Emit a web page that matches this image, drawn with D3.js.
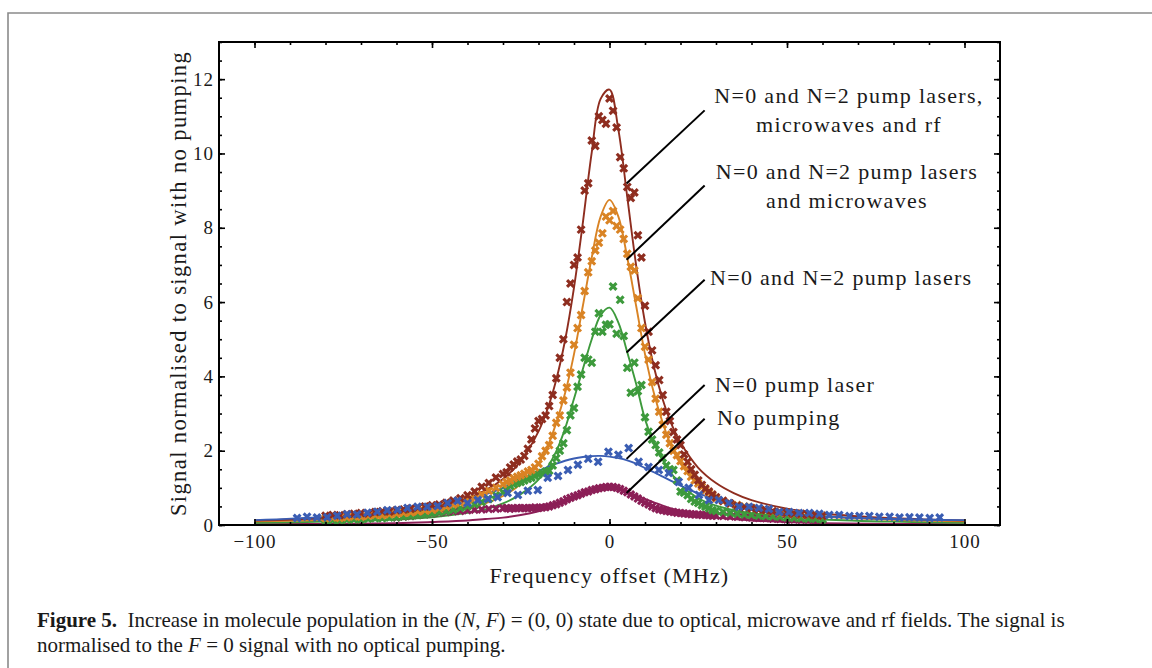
<!DOCTYPE html>
<html>
<head>
<meta charset="utf-8">
<script src="https://cdn.jsdelivr.net/npm/d3@7"></script>
<style>
  html, body { margin: 0; padding: 0; background: #fff; }
  svg text { font-family: "Liberation Serif", "Times New Roman", serif; fill: #1a1a1a; }
</style>
</head>
<body>
<svg id="fig" width="1152" height="668"></svg>
<script>
//--- data --------------------------------------------------------------------------------------------------//

// frequency points of the dense scans (MHz)
var scanMHz = [-80,-78,-76,-74,-72,-70,-68,-66,-64,-62,-60,-58,-56,-54,-52,-50,-48,-46,-44,-42,-40,-38,-36,-34,-32,
    -30,-29,-28,-27,-26,-25,-24,-23,-22,-21,-20,-19,-18,-17,-16,-15,-14,-13,-12,-11,-10,-9,-8,-7,-6,-5,-4,-3,-2,-1,
    0,1,2,3,4,5,6,7,8,9,10,11,12,13,14,15,16,17,18,19,20,21,22,23,24,25,26,27,28,29,30,
    32,34,36,38,40,42,44,46,48,50,52,54,56,58,60];

var allPumpsSig = [0.25,0.27,0.26,0.29,0.30,0.32,0.31,0.35,0.37,0.36,0.40,0.42,0.44,0.47,0.50,0.53,0.55,0.60,0.66,0.72,0.80,0.90,1.03,1.13,1.28,
    1.37,1.42,1.55,1.63,1.71,1.76,1.86,2.05,2.30,2.60,2.80,2.85,2.95,3.20,3.50,3.95,4.50,5.00,6.00,6.50,7.00,7.20,7.95,9.00,9.20,10.35,10.20,11.00,10.90,10.80,
    11.48,11.15,10.70,9.90,9.60,9.10,8.80,8.95,7.80,7.20,5.90,5.20,4.70,4.30,3.90,3.50,3.05,2.80,2.50,2.30,2.15,1.90,1.70,1.50,1.35,1.20,1.08,0.98,0.90,0.82,0.75,
    0.65,0.58,0.52,0.48,0.45,0.42,0.40,0.37,0.35,0.33,0.31,0.30,0.28,0.27,0.25];

var mwPumpsSig = [0.18,0.20,0.19,0.21,0.23,0.22,0.25,0.27,0.26,0.29,0.31,0.33,0.34,0.37,0.40,0.42,0.46,0.50,0.55,0.60,0.66,0.72,0.82,0.92,1.00,
    1.10,1.16,1.20,1.26,1.30,1.34,1.38,1.44,1.48,1.55,1.65,1.85,2.00,2.15,2.40,2.75,2.95,3.35,3.70,4.10,4.85,5.30,5.65,6.30,6.80,7.10,7.39,7.60,7.85,8.30,
    8.20,8.45,8.05,7.95,7.70,7.30,6.95,6.85,6.10,5.30,4.80,4.45,3.85,3.40,3.05,2.70,2.43,2.20,2.00,1.88,1.72,1.58,1.45,1.30,1.20,1.12,1.03,0.94,0.86,0.77,0.72,
    0.64,0.58,0.54,0.50,0.46,0.43,0.40,0.36,0.33,0.32,0.30,0.29,0.28,0.27,0.25];

var twoPumpsSig = [0.12,0.13,0.12,0.14,0.15,0.15,0.17,0.18,0.18,0.20,0.21,0.23,0.25,0.27,0.29,0.31,0.34,0.37,0.41,0.46,0.50,0.56,0.62,0.70,0.80,
    0.88,0.95,1.05,1.10,1.13,1.16,1.20,1.24,1.27,1.32,1.36,1.40,1.44,1.46,1.60,1.80,2.00,2.20,2.55,2.95,3.15,3.72,4.05,4.50,4.45,4.37,5.20,5.70,5.20,5.39,
    5.40,6.42,5.15,6.06,5.09,4.23,3.56,4.37,3.60,3.77,2.90,2.51,2.30,2.15,1.95,1.80,1.60,1.50,1.48,1.20,0.90,0.87,0.80,0.70,0.63,0.59,0.53,0.49,0.45,0.40,0.38,
    0.35,0.33,0.30,0.28,0.27,0.25,0.24,0.23,0.22,0.20,0.19,0.18,0.17,0.16,0.15];

var noPumpSig = [null,null,null,null,null,null,null,null,null,null,0.20,0.23,0.24,0.27,0.29,0.30,0.33,0.35,0.37,0.38,0.40,0.41,0.42,0.43,0.44,
    0.45,0.46,0.44,0.45,0.46,0.45,0.46,0.45,0.46,0.47,0.46,0.47,0.48,0.50,0.53,0.56,0.60,0.64,0.69,0.73,0.77,0.80,0.84,0.88,0.90,0.94,0.96,0.99,1.00,1.02,
    1.03,1.02,1.00,0.97,0.92,0.88,0.82,0.77,0.71,0.65,0.60,0.55,0.50,0.45,0.42,0.40,0.38,0.36,0.35,0.33,0.32,0.31,0.30,0.29,0.28,0.28,0.27,0.27,0.26,0.25,0.25,
    0.24,0.23,0.22,0.21,0.20,0.19,0.18,0.17,0.16,0.15,0.15,0.14,0.14,0.13,0.13];

// the N=0 pump laser scan has its own, coarser frequency steps
var n0ScanMHz = [-88.0,-85.2,-82.4,-79.5,-76.7,-73.9,-71.1,-68.2,-65.4,-62.6,-59.7,-56.9,-54.1,-51.3,-48.4,-45.6,-42.8,-40.0,-37.1,-34.3,
    -31.5,-28.7,-25.8,-23.0,-20.2,-17.4,-14.5,-11.7,-8.9,-6.0,-3.2,-0.3,2.5,5.4,8.2,11.0,13.9,16.7,19.5,22.3,
    25.2,28.0,30.8,33.6,36.5,39.3,42.1,44.9,47.8,50.6,53.4,56.3,59.1,61.9,64.7,67.6,70.4,73.2,76.0,78.9,
    81.7,84.5,87.3,90.2,93.0];
var n0PumpSig = [0.19,0.22,0.20,0.21,0.25,0.29,0.28,0.33,0.36,0.40,0.41,0.46,0.49,0.49,0.51,0.59,0.65,0.59,0.67,0.70,
    0.75,0.86,0.81,0.92,0.94,1.27,1.32,1.48,1.62,1.78,1.70,1.97,1.89,2.07,1.70,1.56,1.48,1.40,1.16,1.00,
    0.81,0.67,0.67,0.59,0.49,0.49,0.46,0.43,0.35,0.35,0.32,0.32,0.30,0.27,0.27,0.24,0.24,0.24,0.22,0.22,
    0.20,0.21,0.20,0.19,0.20];

// fitted curves, read at these frequencies
var fitMHz = [-100,-80,-60,-50,-40,-35,-30,-25,-20,-17.5,-15,-12.5,-10,-7.5,-5,-2.5,0,2.5,5,7.5,10,12.5,15,17.5,20,25,30,35,40,50,60,80,100];
var allPumpsFit = [0.12,0.19,0.33,0.47,0.72,0.93,1.24,1.72,2.52,3.11,3.91,4.98,6.39,8.14,10.03,11.47,11.72,10.64,8.83,6.99,5.45,4.26,3.38,2.71,2.22,1.54,1.13,0.86,0.67,0.44,0.31,0.18,0.12];
var mwPumpsFit = [0.10,0.14,0.23,0.31,0.46,0.58,0.78,1.10,1.65,2.10,2.75,3.55,4.60,5.90,7.20,8.30,8.75,8.30,7.20,5.90,4.60,3.55,2.75,2.10,1.65,1.10,0.78,0.58,0.46,0.31,0.23,0.14,0.10];
var twoPumpsFit = [0.06,0.09,0.15,0.21,0.33,0.42,0.58,0.83,1.22,1.55,1.98,2.60,3.40,4.20,5.00,5.65,5.85,5.45,4.65,3.80,2.85,2.20,1.75,1.38,1.08,0.72,0.52,0.40,0.32,0.21,0.15,0.09,0.06];
var n0PumpFit = [0.13,0.22,0.35,0.47,0.66,0.82,1.00,1.23,1.45,1.56,1.65,1.73,1.79,1.83,1.855,1.86,1.84,1.80,1.74,1.65,1.53,1.42,1.30,1.18,1.06,0.85,0.69,0.57,0.47,0.33,0.24,0.16,0.13];
var noPumpFit = [0.02,0.03,0.05,0.08,0.12,0.16,0.20,0.27,0.37,0.44,0.52,0.61,0.70,0.80,0.90,0.97,1.00,0.97,0.90,0.80,0.70,0.61,0.52,0.44,0.37,0.27,0.20,0.16,0.12,0.08,0.05,0.03,0.02];

var xTicks = [-100, -50, 0, 50, 100];
var yTicks = [0, 2, 4, 6, 8, 10, 12];

// label text and the point on each curve the pointer touches [MHz, signal] -> [MHz, signal]
var labelLines = [
    {text: ["N=0 and N=2 pump lasers,", "microwaves and rf"], from: [4.8, 9.19], to: [26.8, 11.16]},
    {text: ["N=0 and N=2 pump lasers", "and microwaves"],     from: [4.8, 7.14], to: [26.8, 9.14]},
    {text: ["N=0 and N=2 pump lasers"],                      from: [4.8, 4.64], to: [26.8, 6.60]},
    {text: ["N=0 pump laser"],                               from: [4.8, 1.78], to: [26.8, 3.77]},
    {text: ["No pumping"],                                   from: [4.8, 0.86], to: [26.8, 2.86]}
];

//--- drawing ----------------------------------------------------------------------------------------------//

var svg = d3.select("#fig");
var plot = {left: 219, right: 1000, top: 42, bottom: 525};

var x = d3.scaleLinear().domain([-110, 110]).range([plot.left, plot.right]);
var y = d3.scaleLinear().domain([0, 13]).range([plot.bottom, plot.top]);

// outer figure border
svg.append("path")
    .attr("d", "M8,668V13H1152")
    .attr("fill", "none")
    .attr("stroke", "#8a8a8a")
    .attr("stroke-width", 1.6);

svg.append("clipPath").attr("id", "plotclip")
    .append("rect")
    .attr("x", plot.left).attr("y", plot.top)
    .attr("width", plot.right - plot.left).attr("height", plot.bottom - plot.top);

var series = [
    {color: "#8c1f57", mx: scanMHz,   my: noPumpSig,   fit: noPumpFit},
    {color: "#3d9a3c", mx: scanMHz,   my: twoPumpsSig, fit: twoPumpsFit},
    {color: "#d98324", mx: scanMHz,   my: mwPumpsSig,  fit: mwPumpsFit},
    {color: "#8e2d1f", mx: scanMHz,   my: allPumpsSig, fit: allPumpsFit},
    {color: "#3a5db3", mx: n0ScanMHz, my: n0PumpSig,   fit: n0PumpFit}
];

var g = svg.append("g").attr("clip-path", "url(#plotclip)");

var line = d3.line()
    .x(function(d) { return x(d[0]); })
    .y(function(d) { return y(d[1]); })
    .curve(d3.curveCatmullRom.alpha(0.5));

series.forEach(function(s) {
    g.append("path")
        .datum(d3.zip(fitMHz, s.fit))
        .attr("d", line)
        .attr("fill", "none")
        .attr("stroke", s.color)
        .attr("stroke-width", 1.9);
});

var cross = "M-3.4,-3.4L3.4,3.4M-3.4,3.4L3.4,-3.4";

series.forEach(function(s) {
    var pts = d3.zip(s.mx, s.my).filter(function(d) { return d[1] !== null; });
    g.selectAll(null)
        .data(pts)
        .enter()
        .append("path")
        .attr("d", cross)
        .attr("transform", function(d) { return "translate(" + x(d[0]) + "," + y(d[1]) + ")"; })
        .attr("fill", "none")
        .attr("stroke", s.color)
        .attr("stroke-width", 3.1);
});

//--- axes: ticks point inwards on all four sides -----------------------------------------------------------//

function styleAxis(sel) {
    sel.select(".domain").remove();
    sel.selectAll(".tick line").attr("stroke", "#000").attr("stroke-width", 1.6);
    sel.selectAll(".tick text")
        .style("font-family", "'Liberation Serif', serif")
        .style("font-size", "19px")
        .style("letter-spacing", "1px")
        .attr("fill", "#1a1a1a");
}

var minorX = d3.range(-100, 101, 10);
var minorY = d3.range(0, 13.01, 0.5);

svg.append("g").attr("transform", "translate(0," + plot.bottom + ")")
    .call(d3.axisBottom(x).tickValues(minorX).tickSize(-3).tickFormat(""))
    .call(styleAxis);
svg.append("g").attr("transform", "translate(0," + plot.bottom + ")")
    .call(d3.axisBottom(x).tickValues(xTicks).tickSize(-6).tickPadding(10))
    .call(styleAxis);
svg.append("g").attr("transform", "translate(0," + plot.top + ")")
    .call(d3.axisTop(x).tickValues(minorX).tickSize(-3).tickFormat(""))
    .call(styleAxis);
svg.append("g").attr("transform", "translate(0," + plot.top + ")")
    .call(d3.axisTop(x).tickValues(xTicks).tickSize(-6).tickFormat(""))
    .call(styleAxis);

svg.append("g").attr("transform", "translate(" + plot.left + ",0)")
    .call(d3.axisLeft(y).tickValues(minorY).tickSize(-3).tickFormat(""))
    .call(styleAxis);
svg.append("g").attr("transform", "translate(" + plot.left + ",0)")
    .call(d3.axisLeft(y).tickValues(yTicks).tickSize(-6).tickPadding(5))
    .call(styleAxis);
svg.append("g").attr("transform", "translate(" + plot.right + ",0)")
    .call(d3.axisRight(y).tickValues(minorY).tickSize(-3).tickFormat(""))
    .call(styleAxis);
svg.append("g").attr("transform", "translate(" + plot.right + ",0)")
    .call(d3.axisRight(y).tickValues(yTicks).tickSize(-6).tickFormat(""))
    .call(styleAxis);

svg.append("rect")
    .attr("x", plot.left).attr("y", plot.top)
    .attr("width", plot.right - plot.left).attr("height", plot.bottom - plot.top)
    .attr("fill", "none")
    .attr("stroke", "#000")
    .attr("stroke-width", 2);

// axis titles
svg.append("text")
    .attr("x", (plot.left + plot.right) / 2)
    .attr("y", 583)
    .attr("text-anchor", "middle")
    .style("font-size", "22px")
    .style("letter-spacing", "1.2px")
    .text("Frequency offset (MHz)");

svg.append("text")
    .attr("transform", "translate(186," + ((plot.top + plot.bottom) / 2) + ") rotate(-90)")
    .attr("text-anchor", "middle")
    .style("font-size", "22.5px")
    .style("letter-spacing", "1.4px")
    .text("Signal normalised to signal with no pumping");

//--- curve labels with pointer lines ----------------------------------------------------------------------//

svg.selectAll(".pointer")
    .data(labelLines)
    .enter()
    .append("line")
    .attr("class", "pointer")
    .attr("x1", function(d) { return x(d.from[0]); })
    .attr("y1", function(d) { return y(d.from[1]); })
    .attr("x2", function(d) { return x(d.to[0]); })
    .attr("y2", function(d) { return y(d.to[1]); })
    .attr("stroke", "#000")
    .attr("stroke-width", 2);

var labelPos = [
    {x: 849, y: 103, anchor: "middle"},
    {x: 847, y: 179, anchor: "middle"},
    {x: 710, y: 285, anchor: "start"},
    {x: 715, y: 392, anchor: "start"},
    {x: 717, y: 425, anchor: "start"}
];

labelLines.forEach(function(d, i) {
    var p = labelPos[i];
    var t = svg.append("text")
        .attr("x", p.x).attr("y", p.y)
        .attr("text-anchor", p.anchor)
        .style("font-size", "22px")
        .style("letter-spacing", "1.3px");
    d.text.forEach(function(s, j) {
        t.append("tspan").attr("x", p.x).attr("dy", j === 0 ? 0 : 28.5).text(s);
    });
});

//--- caption ----------------------------------------------------------------------------------------------//

var cap1 = svg.append("text").attr("x", 37).attr("y", 627).style("font-size", "21px");
cap1.append("tspan").style("font-weight", "bold").text("Figure 5.");
cap1.append("tspan").text("\u2002Increase in molecule population in the (");
cap1.append("tspan").style("font-style", "italic").text("N");
cap1.append("tspan").text(", ");
cap1.append("tspan").style("font-style", "italic").text("F");
cap1.append("tspan").text(") = (0, 0) state due to optical, microwave and rf fields. The signal is");

var cap2 = svg.append("text").attr("x", 37).attr("y", 652).style("font-size", "21px");
cap2.append("tspan").text("normalised to the ");
cap2.append("tspan").style("font-style", "italic").text("F");
cap2.append("tspan").text(" = 0 signal with no optical pumping.");
</script>
</body>
</html>
